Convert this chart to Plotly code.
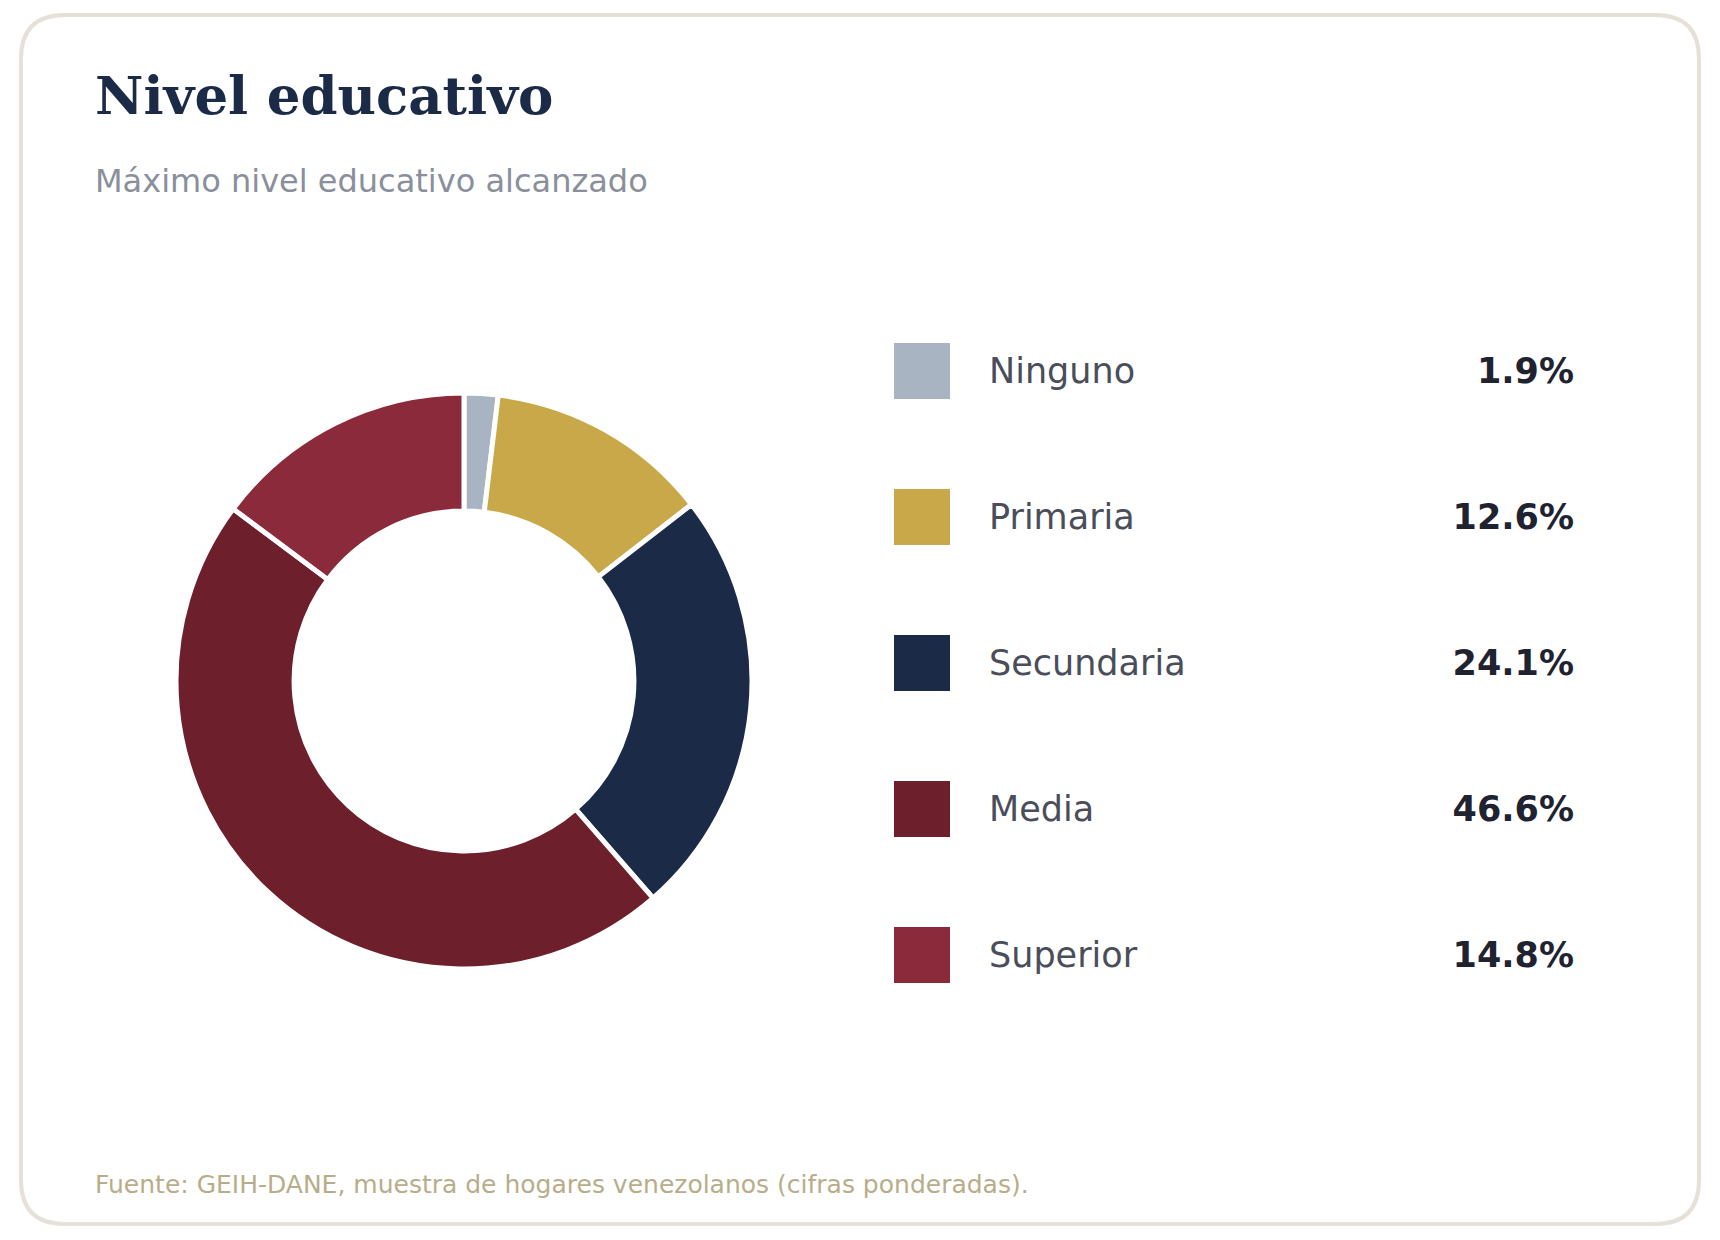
import plotly.graph_objects as go

# Data
niveles = ["Ninguno", "Primaria", "Secundaria", "Media", "Superior"]
porcentajes = [1.9, 12.6, 24.1, 46.6, 14.8]
colores = ["#a8b4c2", "#c9a84a", "#1b2a47", "#6d1f2b", "#8b2a3a"]
etiquetas_valor = [f"{p:.1f}%" for p in porcentajes]

W, H = 1720, 1240
OFF = 8  # page body margin


def px_x(x):
    return (x - OFF) / W


def px_y(y):
    return 1 - (y - OFF) / H


fig = go.Figure()

# Donut
fig.add_trace(go.Pie(
    labels=niveles,
    values=porcentajes,
    hole=0.59,
    sort=False,
    direction="clockwise",
    rotation=0,
    marker=dict(colors=colores, line=dict(color="white", width=5)),
    textinfo="none",
    hoverinfo="label+percent",
    showlegend=False,
    domain=dict(x=[px_x(176), px_x(752)], y=[px_y(969), px_y(393)]),
))

# Custom legend: squares, labels, values
filas = list(range(len(niveles)))
fig.add_trace(go.Scatter(
    x=[28] * len(niveles), y=filas, mode="markers",
    marker=dict(symbol="square", size=56, color=colores, line=dict(width=0)),
    hoverinfo="skip", showlegend=False, xaxis="x", yaxis="y",
))
# texts sit on a second y axis nudged a few px down so they center on the squares
fig.add_trace(go.Scatter(
    x=[95] * len(niveles), y=filas, mode="text", text=niveles,
    textposition="middle right",
    textfont=dict(family="DejaVu Sans", size=35, color="#4a4e5a"),
    hoverinfo="skip", showlegend=False, xaxis="x", yaxis="y2",
))
fig.add_trace(go.Scatter(
    x=[680] * len(niveles), y=filas, mode="text", text=etiquetas_valor,
    textposition="middle left",
    textfont=dict(family="DejaVu Sans", size=35, color="#1f2330", weight="bold"),
    hoverinfo="skip", showlegend=False, xaxis="x", yaxis="y2",
))

# Card border (rounded rectangle)
x0, y0, x1, y1, r = px_x(21), px_y(15), px_x(1699), px_y(1224), 44
rx, ry = r / W, r / H
card = (f"M {x0 + rx},{y0} L {x1 - rx},{y0} Q {x1},{y0} {x1},{y0 - ry} "
        f"L {x1},{y1 + ry} Q {x1},{y1} {x1 - rx},{y1} "
        f"L {x0 + rx},{y1} Q {x0},{y1} {x0},{y1 + ry} "
        f"L {x0},{y0 - ry} Q {x0},{y0} {x0 + rx},{y0} Z")

fig.update_layout(
    width=W, height=H,
    margin=dict(l=0, r=0, t=0, b=0),
    paper_bgcolor="white", plot_bgcolor="rgba(0,0,0,0)",
    xaxis=dict(domain=[px_x(894), px_x(1574)], range=[0, 680], visible=False, fixedrange=True),
    yaxis=dict(domain=[px_y(1028), px_y(298)], range=[4.5, -0.5], visible=False, fixedrange=True),
    yaxis2=dict(domain=[px_y(1031), px_y(301)], range=[4.5, -0.5], visible=False,
                fixedrange=True, anchor="x"),
    shapes=[dict(type="path", path=card, xref="paper", yref="paper",
                 line=dict(color="#e6e1d8", width=4), layer="below")],
    annotations=[
        dict(text="<b>Nivel educativo</b>", x=px_x(93), y=px_y(95), xref="paper", yref="paper",
             xanchor="left", yanchor="middle", showarrow=False,
             font=dict(family="DejaVu Serif", size=53, color="#1b2a47")),
        dict(text="Máximo nivel educativo alcanzado", x=px_x(93), y=px_y(181), xref="paper",
             yref="paper", xanchor="left", yanchor="middle", showarrow=False,
             font=dict(family="DejaVu Sans", size=32, color="#8a8f9c")),
        dict(text="Fuente: GEIH-DANE, muestra de hogares venezolanos (cifras ponderadas).",
             x=px_x(93), y=px_y(1184), xref="paper", yref="paper", xanchor="left",
             yanchor="middle", showarrow=False,
             font=dict(family="DejaVu Sans", size=25, color="#b8ad8a")),
    ],
)

fig.write_html("out.html")
